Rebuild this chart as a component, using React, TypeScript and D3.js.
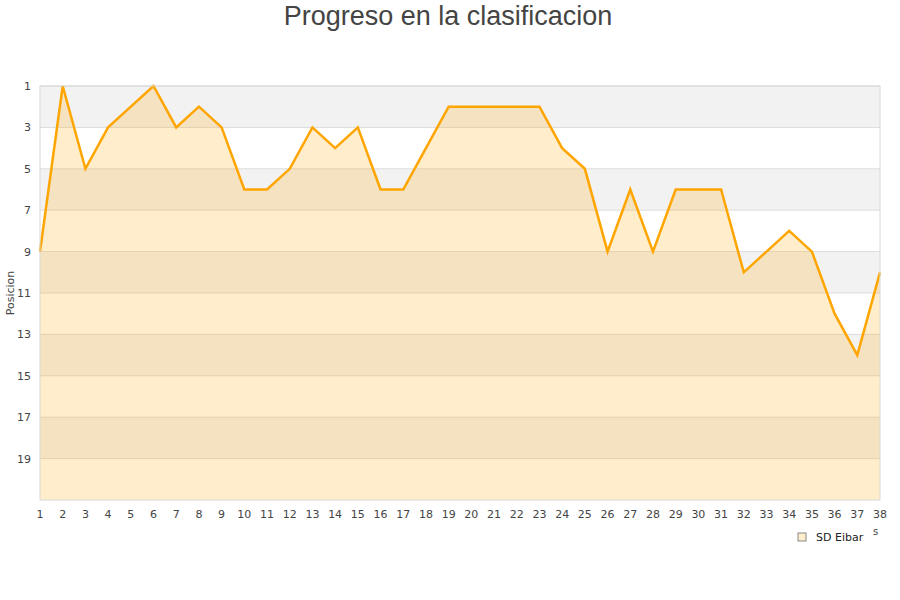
import React from "react";
import * as d3 from "d3";

const jornadas = [1,2,3,4,5,6,7,8,9,10,11,12,13,14,15,16,17,18,19,20,21,22,23,24,25,26,27,28,29,30,31,32,33,34,35,36,37,38];
const posiciones = [9,1,5,3,2,1,3,2,3,6,6,5,3,4,3,6,6,4,2,2,2,2,2,4,5,9,6,9,6,6,6,10,9,8,9,12,14,10];
const yTicks = [1,3,5,7,9,11,13,15,17,19];
const seriesName = "SD Eibar";
const title = "Progreso en la clasificacion";
const yLabel = "Posicion";

export default function App() {
  const W = 900, H = 600;
  const left = 40, right = 880, top = 86, bottom = 500;
  const x = d3.scaleLinear().domain([1, 38]).range([left, right]);
  const y = d3.scaleLinear().domain([1, 21]).range([top, bottom]);
  const bands = d3.range(1, 21, 2);
  const area = d3.area<number>().x((_, i) => x(jornadas[i])).y0(bottom).y1((d) => y(d));
  const line = d3.line<number>().x((_, i) => x(jornadas[i])).y((d) => y(d));
  const font = "DejaVu Sans, sans-serif";
  return (
    <svg width={W} height={H} style={{ position: "absolute", left: 0, top: 0 }}>
      <rect width={W} height={H} fill="#fff" />
      <text x={448} y={25} textAnchor="middle" fontFamily="Liberation Sans, Arial, sans-serif" fontSize={27} fill="#444">{title}</text>
      {bands.map((b, i) => (
        <rect key={b} x={left} y={y(b)} width={right - left} height={y(b + 2) - y(b)} fill={i % 2 === 0 ? "#f2f2f2" : "#ffffff"} />
      ))}
      {yTicks.map((t) => (
        <line key={t} x1={left} x2={right} y1={y(t)} y2={y(t)} stroke="#dcdcdc" strokeWidth={1} />
      ))}
      <path d={area(posiciones) || ""} fill="rgba(255,165,0,0.2)" />
      <path d={line(posiciones) || ""} fill="none" stroke="#ffa500" strokeWidth={2.5} strokeLinejoin="miter" />
      <rect x={left} y={top} width={right - left} height={bottom - top} fill="none" stroke="#d8d8d8" strokeWidth={1} />
      {yTicks.map((t) => (
        <text key={t} x={31} y={y(t) + 4} textAnchor="end" fontFamily={font} fontSize={11} fill="#444">{t}</text>
      ))}
      {jornadas.map((j) => (
        <text key={j} x={x(j)} y={518} textAnchor="middle" fontFamily={font} fontSize={11} fill="#444">{j}</text>
      ))}
      <text transform={`translate(14,${(top + bottom) / 2}) rotate(-90)`} textAnchor="middle" fontFamily={font} fontSize={11} fill="#444">{yLabel}</text>
      <text x={873} y={535} fontFamily={font} fontSize={10} fill="#444">s</text>
      <rect x={798} y={533} width={8} height={8} fill="#ffedcc" stroke="#888" strokeWidth={1} />
      <text x={816} y={541} fontFamily={font} fontSize={11} fill="#222">{seriesName}</text>
    </svg>
  );
}
